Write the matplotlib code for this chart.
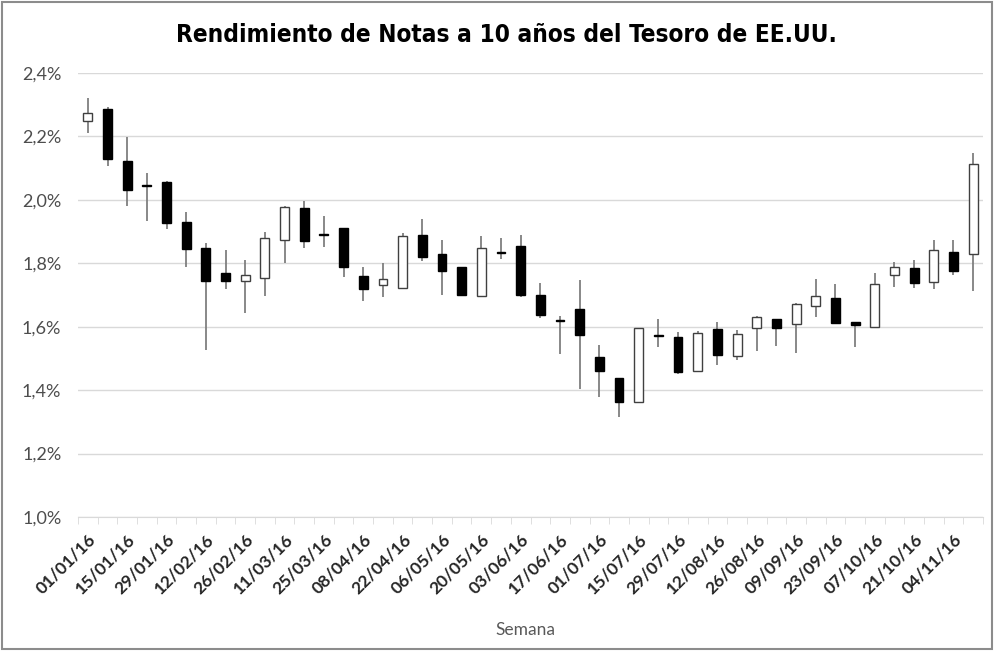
import matplotlib
matplotlib.use("Agg")
import matplotlib.pyplot as plt
from matplotlib.patches import Rectangle
from matplotlib.ticker import FuncFormatter

# Semanas (viernes) y valores OHLC, en %
semanas = ["01/01/16", "08/01/16", "15/01/16", "22/01/16", "29/01/16", "05/02/16",
           "12/02/16", "19/02/16", "26/02/16", "04/03/16", "11/03/16", "18/03/16",
           "25/03/16", "01/04/16", "08/04/16", "15/04/16", "22/04/16", "29/04/16",
           "06/05/16", "13/05/16", "20/05/16", "27/05/16", "03/06/16", "10/06/16",
           "17/06/16", "24/06/16", "01/07/16", "08/07/16", "15/07/16", "22/07/16",
           "29/07/16", "05/08/16", "12/08/16", "19/08/16", "26/08/16", "02/09/16",
           "09/09/16", "16/09/16", "23/09/16", "30/09/16", "07/10/16", "14/10/16",
           "21/10/16", "28/10/16", "04/11/16", "11/11/16"]

apertura = [2.250, 2.286, 2.122, 2.046, 2.055, 1.930, 1.849, 1.768, 1.745, 1.753,
            1.873, 1.975, 1.890, 1.910, 1.761, 1.731, 1.721, 1.889, 1.828, 1.787,
            1.697, 1.834, 1.855, 1.700, 1.622, 1.655, 1.505, 1.437, 1.362, 1.572,
            1.569, 1.460, 1.592, 1.508, 1.595, 1.623, 1.608, 1.666, 1.691, 1.614,
            1.598, 1.763, 1.786, 1.740, 1.837, 1.829]
maximo = [2.320, 2.292, 2.197, 2.084, 2.058, 1.963, 1.865, 1.842, 1.810, 1.898,
          1.980, 1.996, 1.950, 1.912, 1.787, 1.802, 1.895, 1.939, 1.873, 1.789,
          1.887, 1.879, 1.889, 1.739, 1.634, 1.747, 1.542, 1.438, 1.597, 1.623,
          1.584, 1.585, 1.614, 1.590, 1.634, 1.625, 1.675, 1.749, 1.734, 1.616,
          1.768, 1.803, 1.810, 1.873, 1.873, 2.147]
minimo = [2.212, 2.107, 1.982, 1.934, 1.907, 1.789, 1.527, 1.718, 1.642, 1.698,
          1.802, 1.849, 1.850, 1.758, 1.682, 1.695, 1.718, 1.808, 1.700, 1.698,
          1.695, 1.813, 1.695, 1.627, 1.514, 1.403, 1.377, 1.316, 1.360, 1.535,
          1.452, 1.458, 1.479, 1.495, 1.524, 1.540, 1.516, 1.632, 1.608, 1.537,
          1.596, 1.726, 1.721, 1.719, 1.763, 1.714]
cierre = [2.273, 2.128, 2.031, 2.044, 1.926, 1.845, 1.744, 1.745, 1.763, 1.879,
          1.976, 1.870, 1.888, 1.789, 1.720, 1.749, 1.887, 1.819, 1.777, 1.700,
          1.847, 1.832, 1.700, 1.637, 1.617, 1.574, 1.460, 1.364, 1.595, 1.570,
          1.456, 1.579, 1.511, 1.577, 1.632, 1.597, 1.671, 1.697, 1.611, 1.605,
          1.734, 1.789, 1.739, 1.842, 1.777, 2.113]

fig = plt.figure(figsize=(9.95, 6.52), dpi=100)
ax = fig.add_axes([78 / 995, 1 - 517 / 652, 905 / 995, 444 / 652])

x = list(range(len(semanas)))

# mechas
ax.vlines(x, minimo, maximo, color="#7f7f7f", linewidth=1.3, zorder=2)

# cuerpos: blanco si sube, negro si baja
for i in x:
    o, c = apertura[i], cierre[i]
    sube = c >= o
    alto = max(abs(c - o), 0.003)
    ax.bar(i, alto, bottom=min(o, c), width=0.45,
           color="white" if sube else "black",
           edgecolor="#404040" if sube else "black", linewidth=1.0, zorder=3)

ax.set_xlim(-0.5, len(semanas) - 0.5)
ax.set_ylim(1.0, 2.4)
ax.set_yticks([1.0, 1.2, 1.4, 1.6, 1.8, 2.0, 2.2, 2.4])
ax.yaxis.set_major_formatter(FuncFormatter(lambda v, p: f"{v:.1f}%".replace(".", ",")))
ax.grid(axis="y", color="#d9d9d9", linewidth=1.0, zorder=0)
ax.set_axisbelow(True)

ax.set_xticks(x[::2])
ax.set_xticklabels(semanas[::2], rotation=45, ha="right", rotation_mode="anchor",
                   fontsize=12.5, family=["Lato", "DejaVu Sans"], color="#262626",
                   fontweight="bold")
ax.set_xticks([i - 0.5 for i in range(len(semanas) + 1)], minor=True)
ax.tick_params(axis="x", which="major", length=0, pad=10)
ax.tick_params(axis="x", which="minor", length=5, color="#d9d9d9")
ax.tick_params(axis="y", length=0, pad=12, labelsize=13, labelcolor="#4d4d4d")
for lab in ax.get_yticklabels():
    lab.set_family(["Lato", "DejaVu Sans"])

for s in ["top", "right", "left"]:
    ax.spines[s].set_visible(False)
ax.spines["bottom"].set_color("#d9d9d9")

fig.text(506 / 995, 1 - 35 / 652, "Rendimiento de Notas a 10 años del Tesoro de EE.UU.",
         ha="center", va="center", fontsize=17.5, fontweight="bold", fontstretch="condensed",
         family=["DejaVu Sans"], color="black")
fig.text(525 / 995, 1 - 630 / 652, "Semana", ha="center", va="center",
         fontsize=12.5, family=["Lato", "DejaVu Sans"], color="#595959")

fig.patches.append(Rectangle((0.002, 0.004), 0.995, 0.993, transform=fig.transFigure,
                             fill=False, edgecolor="#8c8c8c", linewidth=1.5))

fig.savefig("out.png", dpi=100, facecolor="white")
